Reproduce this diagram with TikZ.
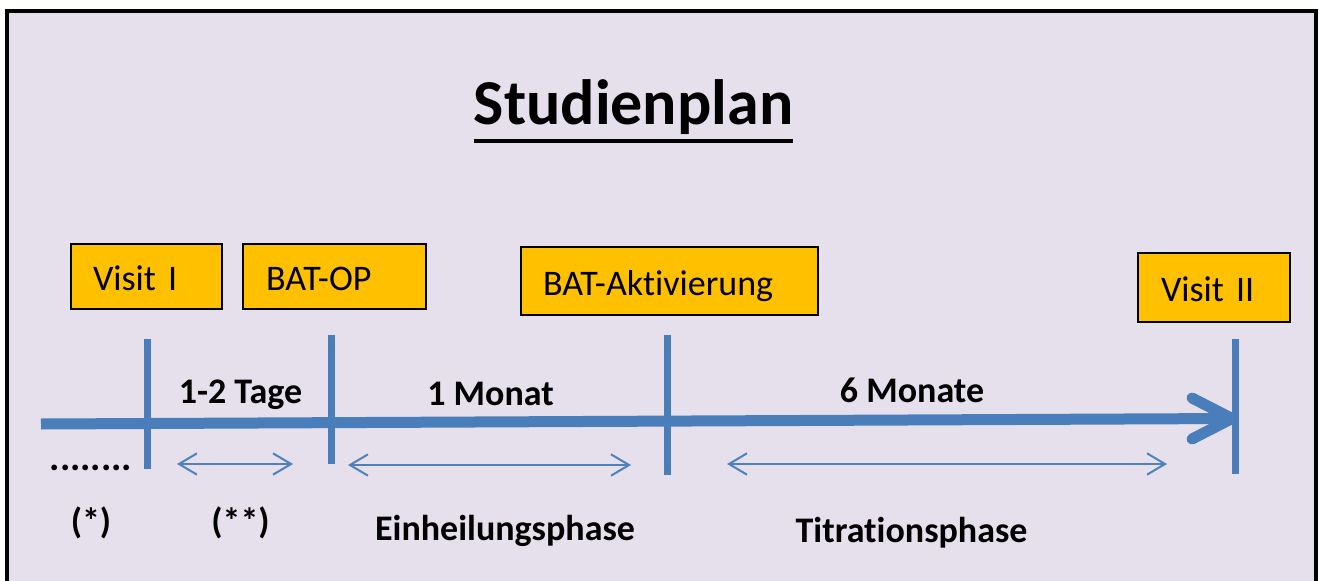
\documentclass[tikz,border=0pt]{standalone}
\usepackage{fontspec}
\setmainfont{Carlito}[Ligatures=NoCommon]
\usetikzlibrary{arrows.meta,calc}
\definecolor{bgcol}{HTML}{E5E0EC}
\definecolor{linecol}{HTML}{4A7EBB}
\definecolor{thincol}{HTML}{4F81BD}
\definecolor{boxcol}{HTML}{FFC000}
\begin{document}
\begin{tikzpicture}[x=0.75pt,y=-0.75pt,
  boxnode/.style={draw=black,line width=1.5pt,fill=boxcol,font=\fontsize{27}{32}\selectfont,align=left,inner ysep=0pt,text height=21pt,text depth=0pt},
  lbl/.style={font=\bfseries\fontsize{27}{32}\selectfont,inner sep=0pt,anchor=base},
  titlenode/.style={font=\bfseries\fontsize{48}{56}\selectfont,inner sep=0pt,anchor=base},
  mainline/.style={draw=linecol,line width=8.25pt},
  tickline/.style={draw=linecol,line width=5.25pt},
  thinarrow/.style={draw=thincol,line width=1.5pt,{Straight Barb[length=13.5pt,width=16pt]}-{Straight Barb[length=13.5pt,width=16pt]}}
]
\useasboundingbox (0,0) rectangle (1320,581);
\clip (0,0) rectangle (1320,581);
% frame
\draw[fill=bgcol,draw=black,line width=3pt] (7,11) rectangle (1316,620);

% title
\node[titlenode] (title) at (633.5,125) {Studienplan};
\draw[line width=3pt] ([yshift=-12pt]title.base west) -- ([yshift=-12pt]title.base east);

% main timeline
\coordinate (start) at (41,424);
\coordinate (end) at (1232,418.5);
\coordinate (armup) at (1192,398);
\coordinate (armdown) at (1192,439);
\draw[mainline] (start) -- (end);
\draw[mainline,line cap=round,line join=round] (armup) -- (end) -- (armdown);

% ticks
\coordinate (t1a) at (147,339); \coordinate (t1b) at (147,469);
\coordinate (t2a) at (331,335); \coordinate (t2b) at (331,464);
\coordinate (t3a) at (667,335); \coordinate (t3b) at (667,475);
\coordinate (t4a) at (1235,339); \coordinate (t4b) at (1235,474);
\draw[tickline] (t1a) -- (t1b);
\draw[tickline] (t2a) -- (t2b);
\draw[tickline] (t3a) -- (t3b);
\draw[tickline] (t4a) -- (t4b);

% thin double arrows
\coordinate (a1l) at (177,464); \coordinate (a1r) at (293,464);
\coordinate (a2l) at (348,465); \coordinate (a2r) at (631,465);
\coordinate (a3l) at (727,464); \coordinate (a3r) at (1167,464);
\draw[thinarrow] (a1l) -- (a1r);
\draw[thinarrow] (a2l) -- (a2r);
\draw[thinarrow] (a3l) -- (a3r);

% boxes
\node[boxnode,inner xsep=16.5pt,text width=80.25pt,minimum height=48.75pt] (visit1) at (146.5,276.5) {Visit I};
\node[boxnode,inner xsep=17.25pt,text width=102.75pt,minimum height=48.75pt] (batop) at (334.5,276.5) {BAT-OP};
\node[boxnode,inner xsep=16.5pt,text width=189.75pt,minimum height=51pt] (batakt) at (669.5,281) {BAT-Aktivierung};
\node[boxnode,inner xsep=17.25pt,text width=79.5pt,minimum height=51.75pt] (visit2) at (1214,287.5) {Visit II};

% labels
\node[lbl] (l12) at (240.5,403) {1-2 Tage};
\node[lbl] (l1m) at (490.5,405) {1 Monat};
\node[lbl] (l6m) at (912,402) {6 Monate};
\node[lbl,font=\bfseries\fontsize{29}{32}\selectfont] (dots) at (91,470) {........};
\node[lbl] (star1) at (91,533) {(*)};
\node[lbl] (star2) at (240.5,533) {(**)};
\node[lbl] (einh) at (505,540) {Einheilungsphase};
\node[lbl] (titr) at (911.5,542) {Titrationsphase};
\end{tikzpicture}
\end{document}
